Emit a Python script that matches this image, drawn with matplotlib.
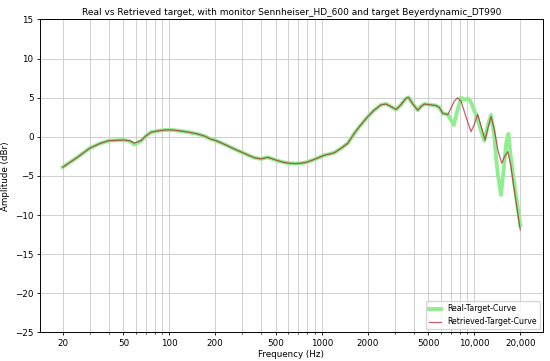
import numpy as np
import matplotlib
matplotlib.use("Agg")
import matplotlib.pyplot as plt
from matplotlib.ticker import FixedLocator, FixedFormatter, NullFormatter

# Shared low/mid-frequency part (both curves overlap here)
freq_low = [20, 25, 30, 35, 40, 50, 55, 59, 65, 70, 76, 85, 95, 105, 119, 135, 153, 170, 188,
            197, 215, 242, 270, 303, 330, 361, 399, 442, 480, 514, 560, 612, 670, 731, 790, 850,
            940, 1038, 1120, 1208, 1336, 1479, 1634, 1762, 2000, 2200, 2445, 2637, 2850, 3066,
            3300, 3550, 3700, 3950, 4257, 4450, 4701, 5140, 5610, 5900, 6209, 6700]
real_low = [-3.88, -2.6, -1.46, -0.85, -0.49, -0.40, -0.55, -0.98, -0.55, 0.1, 0.6, 0.78, 0.88,
            0.88, 0.75, 0.58, 0.37, 0.1, -0.31, -0.4, -0.7, -1.16, -1.6, -2.02, -2.35, -2.66,
            -2.82, -2.61, -2.85, -3.04, -3.25, -3.37, -3.42, -3.37, -3.25, -3.04, -2.7, -2.35,
            -2.2, -2.02, -1.46, -0.82, 0.46, 1.30, 2.58, 3.4, 4.1, 4.2, 3.85, 3.5, 4.1, 4.9,
            5.05, 4.2, 3.4, 3.85, 4.2, 4.1, 4.0, 3.75, 3.0, 2.85]
retr_low = [-3.88, -2.6, -1.46, -0.85, -0.49, -0.40, -0.5, -0.8, -0.49, 0.1, 0.6, 0.78, 0.88,
            0.88, 0.75, 0.58, 0.37, 0.1, -0.31, -0.4, -0.7, -1.16, -1.6, -2.02, -2.35, -2.66,
            -2.82, -2.61, -2.85, -3.04, -3.25, -3.37, -3.42, -3.37, -3.25, -3.04, -2.7, -2.35,
            -2.2, -2.02, -1.46, -0.82, 0.46, 1.30, 2.58, 3.4, 4.1, 4.2, 3.85, 3.5, 4.1, 4.9,
            5.05, 4.2, 3.4, 3.85, 4.2, 4.1, 4.0, 3.75, 3.0, 2.85]

# High-frequency part (curves diverge)
freq_real_hi = [7000, 7330, 7700, 8187, 8600, 9057, 9400, 9770, 10520, 11100, 11640, 12300,
                12870, 13500, 13870, 14300, 14960, 15600, 16200, 16720, 17300, 18130, 20000]
amp_real_hi = [2.2, 1.52, 3.2, 5.0, 4.75, 4.9, 4.6, 3.86, 2.2, 0.7, -0.49, 1.6,
               2.8, 0.2, -2.5, -5.0, -7.42, -4.0, -0.8, 0.37, -2.5, -5.5, -11.3]
freq_retr_hi = [7000, 7400, 7783, 8200, 8800, 9510, 10000, 10520, 11100, 11750, 12300, 12870,
                13500, 14300, 15120, 15800, 16560, 17300, 17870, 20000]
amp_retr_hi = [3.6, 4.6, 5.0, 4.5, 2.6, 0.66, 1.6, 2.89, 1.3, -0.4, 1.2, 2.58,
               1.0, -1.8, -3.37, -2.5, -1.89, -3.5, -5.5, -11.9]

x_ticks = [20, 50, 100, 200, 500, 1000, 2000, 5000, 10000, 20000]
x_tick_labels = ["20", "50", "100", "200", "500", "1000", "2000", "5000", "10,000", "20,000"]
x_minor = [30, 40, 60, 70, 80, 90, 300, 400, 600, 700, 800, 900,
           3000, 4000, 6000, 7000, 8000, 9000]
y_ticks = [-25, -20, -15, -10, -5, 0, 5, 10, 15]

f_real = freq_low + freq_real_hi
a_real = real_low + amp_real_hi
f_retr = freq_low + freq_retr_hi
a_retr = retr_low + amp_retr_hi

fig = plt.figure(figsize=(5.5, 3.61), dpi=100)
ax = fig.add_axes([0.0725, 0.079, 0.915, 0.867])

ax.plot(f_real, a_real, color="lightgreen", lw=2.8, label="Real-Target-Curve")
ax.plot(f_retr, a_retr, color="#a80a1e", lw=0.9, alpha=0.65, label="Retrieved-Target-Curve")

ax.set_xscale("log")
ax.xaxis.set_major_locator(FixedLocator(x_ticks))
ax.xaxis.set_major_formatter(FixedFormatter(x_tick_labels))
ax.xaxis.set_minor_locator(FixedLocator(x_minor))
ax.xaxis.set_minor_formatter(NullFormatter())
ax.set_ylim(-25, 15)
ax.set_yticks(y_ticks)
ax.grid(True, which="both", color="#c8c8c8", lw=0.6)
ax.tick_params(labelsize=6.3, length=2.5, width=0.6, pad=2)
ax.tick_params(which="minor", length=1.5, width=0.5)
for s in ax.spines.values():
    s.set_linewidth(0.7)

ax.set_xlabel("Frequency (Hz)", fontsize=6.3, labelpad=1.5)
ax.set_ylabel("Amplitude (dBr)", fontsize=6.3, labelpad=3.5)
ax.set_title("Real vs Retrieved target, with monitor Sennheiser_HD_600 and target Beyerdynamic_DT990",
             fontsize=6.5, pad=3.5)
ax.legend(loc="lower right", fontsize=5.6, frameon=True, handlelength=1.6,
          borderaxespad=0.4)

fig.savefig("out.png", dpi=100)
